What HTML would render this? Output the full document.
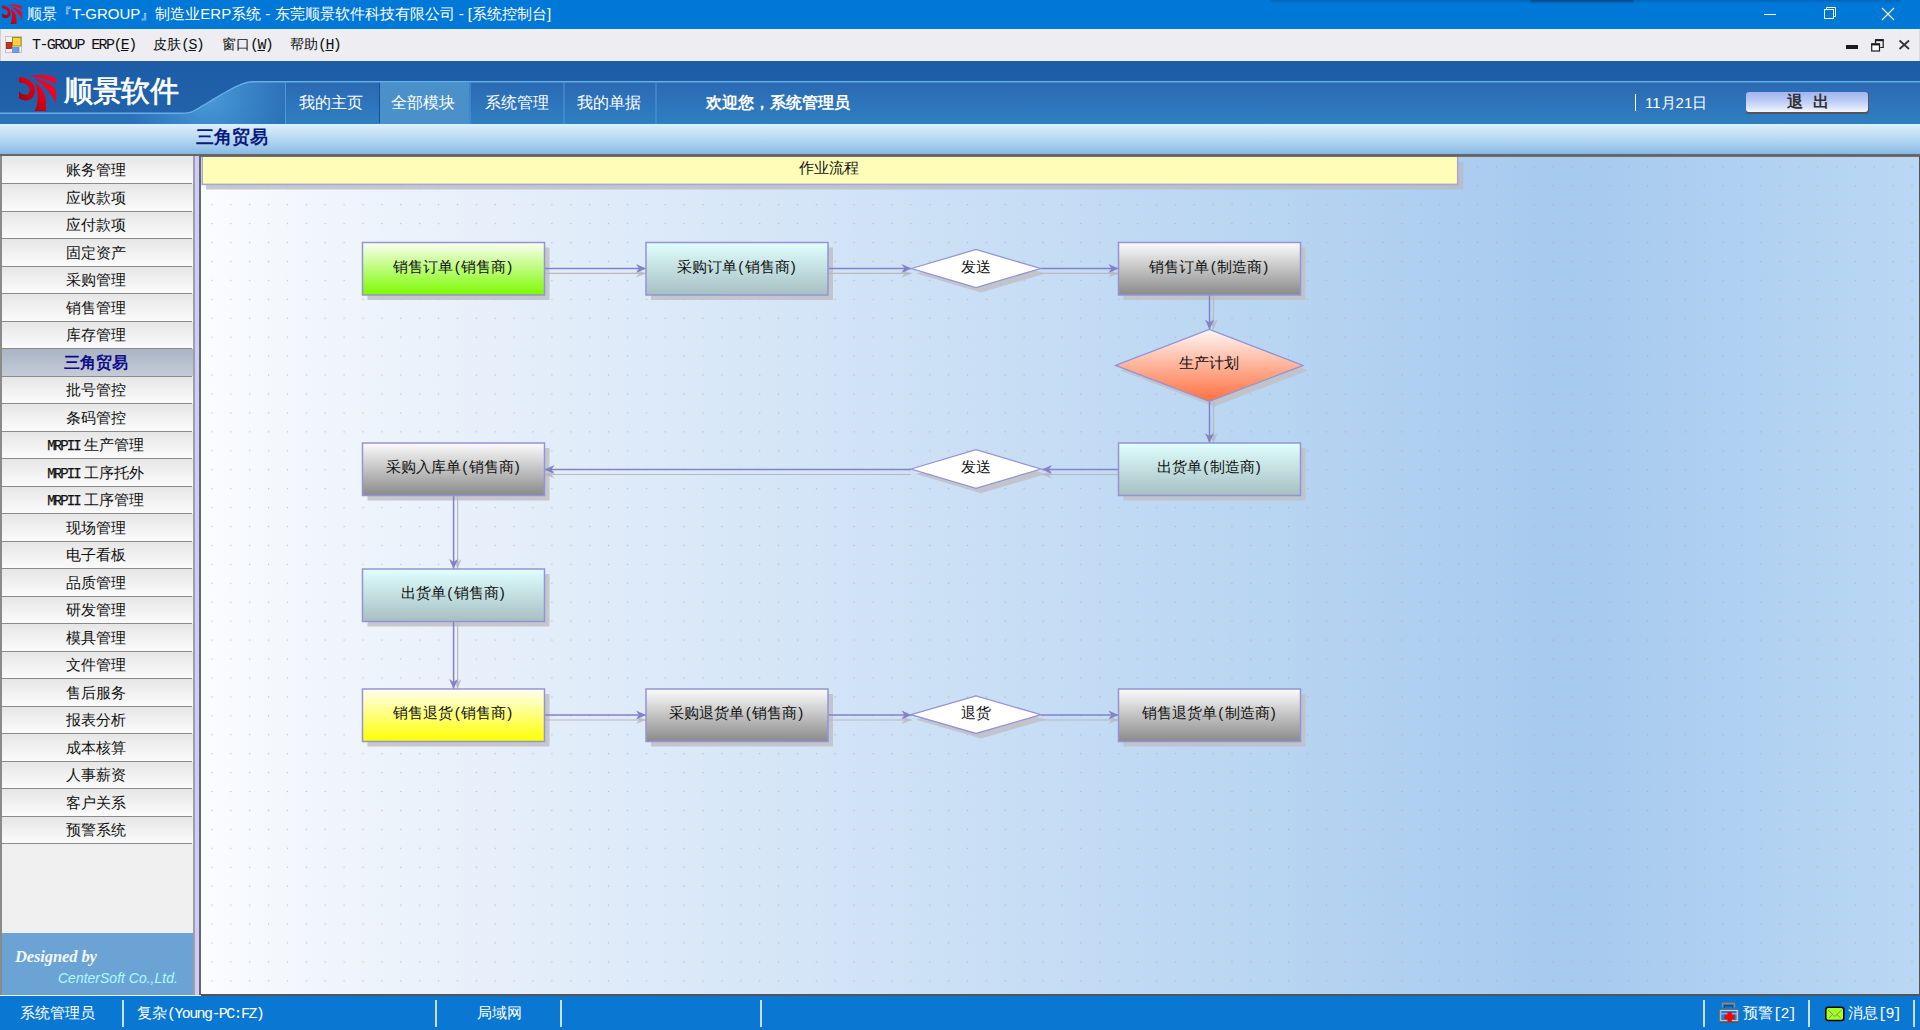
<!DOCTYPE html>
<html><head><meta charset="utf-8">
<style>
*{margin:0;padding:0;box-sizing:border-box}
html,body{width:1920px;height:1030px;overflow:hidden;background:#f0f0f0;font-family:"Liberation Sans",sans-serif}
.a{position:absolute}
#title{left:0;top:0;width:1920px;height:29px;background:#0078d7;color:#fff;font-size:15px}
#menu{left:0;top:29px;width:1920px;height:32px;background:#eeedf2;font-size:14px;color:#111}
#hdr{left:0;top:61px;width:1920px;height:63px;background:#1f5fa8;overflow:hidden}
#sub{left:0;top:124px;width:1920px;height:30px;background:linear-gradient(#dcf0fa 0%,#c5e2f6 30%,#a6cdee 70%,#86b9e3 100%)}
#dline{left:0;top:154px;width:1920px;height:2px;background:#666}
#left{left:0;top:156px;width:195px;height:839px;background:#f0f0f0}
#lborder{left:0;top:156px;width:2px;height:839px;background:#8a8a8a}
.it{position:absolute;left:2px;width:191px;padding-right:4px;background:linear-gradient(#e6e6e6,#fbfbfb);text-align:center;font-size:15px;color:#111}
.itl{position:absolute;left:2px;width:190px;height:1px;background:#8a8a8a}
#vstrip{left:195px;top:156px;width:4px;height:839px;background:#ccccff}
#vline{left:199px;top:156px;width:2px;height:839px;background:#666}
#canvas{left:201px;top:156px;width:1718px;height:838px;background:linear-gradient(90deg,#fbfcfe 0%,#f6f9fd 3%,#ebf2fb 12.2%,#dfebf9 23.8%,#c8def5 47%,#b0d0f0 70%,#a6c9ee 79.6%,#bad8f4 100%);overflow:hidden}
#rline{left:1919px;top:156px;width:1px;height:839px;background:#555}
#bline{left:201px;top:994px;width:1719px;height:2px;background:#555}
#status{left:0;top:996px;width:1920px;height:34px;background:#0a78d2;color:#fff;font-size:15px}
.sep{position:absolute;top:3.5px;width:1.5px;height:27px;background:#c8def2}
.nw{white-space:nowrap}
.mono{font-family:"Liberation Mono",monospace;letter-spacing:-1.6px;font-size:15px}
.tab{top:32px;font-size:16px;color:#fff}
.sel{background:linear-gradient(#aab4c2,#c4ccd8);color:#0c0c8c;font-weight:bold;font-size:15.5px}
.mrp{font-family:"Liberation Mono",monospace;font-size:14px;letter-spacing:-1.9px;-webkit-text-stroke:0.25px #111}
.ft{font-size:15px;color:#111;text-align:center}
.pp{padding:0 1.3px}
.ft{margin-top:-2px}

</style></head><body>
<svg width="0" height="0" style="position:absolute">
<defs>
<linearGradient id="lg" x1="44" y1="14" x2="14" y2="40" gradientUnits="userSpaceOnUse">
<stop offset="0" stop-color="#ff0028"/><stop offset="0.35" stop-color="#f0001e"/><stop offset="1" stop-color="#a00006"/>
</linearGradient>
<symbol id="logo" viewBox="9 7.5 37 37.5">
<g fill="url(#lg)">
<path d="M9,10.5 C18,10.5 25,16 25,24 C25,30 21,34 16.5,34 C13,34 10.5,33 9,31.5 L9,24.5 C11,27.3 13,28.3 15.5,28.3 C18,28.3 19.8,26 19.8,23.5 C19.8,19 15,16 9,16 Z"/>
<path d="M25,16.5 C31,19.5 36,27 36,36 L36,45 L24.5,45 C28.5,37 29,27 25,16.5 Z"/>
<path d="M23.5,12 C33,13 41,17 46,23.5 L46,37.5 C42,27 33,17 23.5,12 Z"/>
<path d="M19.5,10 C28,7.5 38,7.5 46,12 L46,18 C38,12.5 29,10.5 19.5,10 Z"/>
</g>
</symbol>
</defs>
</svg>
<div id="title" class="a">
 <div class="a" style="left:1270px;top:0;width:630px;height:3px;background:linear-gradient(rgba(0,40,90,0.25),rgba(0,40,90,0));border-radius:2px"></div>
 <div class="a" style="left:1530px;top:0;width:104px;height:3.5px;background:linear-gradient(rgba(0,40,80,0.5),rgba(0,40,80,0));border-radius:3px"></div>
 <svg class="a" style="left:2px;top:4px" width="20" height="20"><use href="#logo"/></svg>
 <div class="a nw" style="left:27px;top:5px">顺景『T-GROUP』制造业ERP系统 - 东莞顺景软件科技有限公司 - [系统控制台]</div>
 <svg class="a" style="left:1740px;top:0" width="180" height="29">
  <line x1="24" y1="14.5" x2="36" y2="14.5" stroke="#fff" stroke-width="1"/>
  <rect x="84.5" y="9.5" width="9" height="9" fill="none" stroke="#fff" stroke-width="1"/>
  <path d="M86.5,9.5 V7.5 H95.5 V16.5 H93.5" fill="none" stroke="#fff" stroke-width="1"/>
  <path d="M142,8 L154,20 M154,8 L142,20" stroke="#fff" stroke-width="1.1"/>
 </svg>
</div>
<div id="menu" class="a">
 <div class="a menu-ledge" style="left:0;top:0;width:1.2px;height:32px;background:#d0d0d4"></div>
 <svg class="a" style="left:0;top:0" width="30" height="32">
  <rect x="5.5" y="7.5" width="16" height="16" fill="#f2f2f4" stroke="#c4c4c4"/>
  <rect x="6.5" y="13.5" width="5" height="6" fill="#c83020" stroke="#a01810" stroke-width="0.8"/>
  <rect x="12.5" y="8.5" width="8.5" height="8.5" fill="#ffd040" stroke="#b08810" stroke-width="1"/>
  <rect x="12.5" y="18.5" width="6.5" height="5" fill="#6a9ef0" stroke="#4a7ad0" stroke-width="0.6"/>
 </svg>
 <div class="a nw mono" style="left:32px;top:8px">T-GROUP ERP(<u>E</u>)</div>
 <div class="a nw" style="left:153px;top:7px">皮肤<span class="mono">(<u>S</u>)</span></div>
 <div class="a nw" style="left:222px;top:7px">窗口<span class="mono">(<u>W</u>)</span></div>
 <div class="a nw" style="left:290px;top:7px">帮助<span class="mono">(<u>H</u>)</span></div>
 <svg class="a" style="left:1830px;top:1px" width="90" height="32">
  <rect x="16" y="15" width="12" height="4" fill="#1a1a1a"/>
  <path d="M45.5,13.5 V9.8 H53.2 V17.5 H50.2" fill="none" stroke="#1a1a1a" stroke-width="1.2"/>
  <rect x="45.2" y="9.2" width="8.3" height="2" fill="#1a1a1a"/>
  <rect x="41.7" y="14" width="7.8" height="7" fill="#fff" stroke="#1a1a1a" stroke-width="1.2"/>
  <rect x="41.2" y="13.4" width="8.8" height="2" fill="#1a1a1a"/>
  <path d="M69.5,10.5 L79,19 M79,10.5 L69.5,19" stroke="#333" stroke-width="1.8"/>
  <rect x="89" y="-1" width="1" height="32" fill="#dcdcdc"/>
 </svg>
</div>
<div id="sub" class="a">
 <div class="a nw" style="left:196px;top:0px;font-size:18.3px;font-weight:bold;color:#0a1a80">三角贸易</div>
</div>
<div id="dline" class="a"></div>
<div id="hdr" class="a">
 <svg class="a" style="left:0;top:0" width="1920" height="63">
  <defs>
   <linearGradient id="hg1" x1="0" y1="0" x2="0" y2="1"><stop offset="0" stop-color="#1d5ca6"/><stop offset="1" stop-color="#2264ad"/></linearGradient>
   <linearGradient id="hg2" x1="0" y1="0" x2="0" y2="1"><stop offset="0" stop-color="#2a69b3"/><stop offset="1" stop-color="#2f7fc3"/></linearGradient>
   <radialGradient id="hg3" cx="208" cy="36" r="78" gradientUnits="userSpaceOnUse"><stop offset="0" stop-color="#4b9ad6"/><stop offset="0.45" stop-color="#3a86c9"/><stop offset="1" stop-color="#2c72ba"/></radialGradient>
   <linearGradient id="hg4" x1="0" y1="0" x2="0" y2="1"><stop offset="0" stop-color="#2c74bc"/><stop offset="1" stop-color="#2e7cc2"/></linearGradient>
  </defs>
  <rect x="0" y="0" width="1920" height="63" fill="url(#hg1)"/>
  <rect x="0" y="52" width="300" height="11" fill="url(#hg4)"/>
  <path d="M0,52.3 L178,52.3 C182.0,52.0 187.0,52.6 192,50.8 C197.0,49.0 202.5,44.7 208,41.5 C213.5,38.3 219.4,34.5 225,31.5 C230.6,28.4 237.2,25.0 241.7,23.2 C246.2,21.4 247.3,21.1 252,20.7 L300,20.7 L300,63 L0,63 Z" fill="url(#hg3)"/>
  <rect x="285" y="21.5" width="1635" height="41.5" fill="url(#hg2)"/>
  <rect x="380" y="21.5" width="89" height="41.5" fill="#4a90c9"/>
  <path d="M0,52.3 L178,52.3 C182.0,52.0 187.0,52.6 192,50.8 C197.0,49.0 202.5,44.7 208,41.5 C213.5,38.3 219.4,34.5 225,31.5 C230.6,28.4 237.2,25.0 241.7,23.2 C246.2,21.4 247.3,21.1 252,20.7 L1920,20.7" fill="none" stroke="#66b0e6" stroke-width="1.4"/>
  <g fill="#4c9ad8">
   <rect x="285" y="22" width="1" height="41"/>
   <rect x="469.5" y="22" width="1" height="41"/>
   <rect x="563.5" y="22" width="1" height="41"/>
   <rect x="655.5" y="22" width="1" height="41"/>
  </g>
  <rect x="379" y="22" width="1" height="40" fill="#1a4f8a"/>
 </svg>
 <svg class="a" style="left:19px;top:12.5px" width="37" height="37.5"><use href="#logo"/></svg>
 <div class="a nw" style="left:64px;top:11px;font-size:29px;color:#fff;font-weight:normal;-webkit-text-stroke:0.7px #fff;letter-spacing:-0.3px">顺景软件</div>
 <div class="a nw tab" style="left:299px">我的主页</div>
 <div class="a nw tab" style="left:391px">全部模块</div>
 <div class="a nw tab" style="left:485px">系统管理</div>
 <div class="a nw tab" style="left:577px">我的单据</div>
 <div class="a nw" style="left:706px;top:32px;font-size:16px;font-weight:bold;color:#fff">欢迎您，系统管理员</div>
 <div class="a" style="left:1634.5px;top:33px;width:1.6px;height:17px;background:#fff"></div>
 <div class="a nw" style="left:1645px;top:33px;font-size:15px;color:#fff">11月21日</div>
 <div class="a" style="left:1746px;top:30.5px;width:123px;height:22px;border-radius:3px;background:#555;"></div>
 <div class="a" style="left:1746px;top:30.5px;width:121.5px;height:20.5px;border-radius:3px;background:linear-gradient(#a4b4ee 0%,#b8c8f6 40%,#dde6fc 80%,#f4f6ff 100%)"></div>
 <div class="a nw" style="left:1787px;top:31px;font-size:16px;font-weight:bold;color:#333;letter-spacing:10px">退出</div>
</div>
<div id="left" class="a"></div>
<div id="lborder" class="a"></div>
<div class="it" style="top:156px;height:27px;line-height:27px">账务管理</div>
<div class="itl" style="top:183px"></div>
<div class="it" style="top:184px;height:27px;line-height:27px">应收款项</div>
<div class="itl" style="top:211px"></div>
<div class="it" style="top:212px;height:26px;line-height:26px">应付款项</div>
<div class="itl" style="top:238px"></div>
<div class="it" style="top:239px;height:27px;line-height:27px">固定资产</div>
<div class="itl" style="top:266px"></div>
<div class="it" style="top:267px;height:26px;line-height:26px">采购管理</div>
<div class="itl" style="top:293px"></div>
<div class="it" style="top:294px;height:27px;line-height:27px">销售管理</div>
<div class="itl" style="top:321px"></div>
<div class="it" style="top:322px;height:26px;line-height:26px">库存管理</div>
<div class="itl" style="top:348px"></div>
<div class="it sel" style="top:349px;height:27px;line-height:27px">三角贸易</div>
<div class="itl" style="top:376px"></div>
<div class="it" style="top:377px;height:26px;line-height:26px">批号管控</div>
<div class="itl" style="top:403px"></div>
<div class="it" style="top:404px;height:27px;line-height:27px">条码管控</div>
<div class="itl" style="top:431px"></div>
<div class="it" style="top:432px;height:26px;line-height:26px"><span class="mrp">MRPII</span> 生产管理</div>
<div class="itl" style="top:458px"></div>
<div class="it" style="top:459px;height:27px;line-height:27px"><span class="mrp">MRPII</span> 工序托外</div>
<div class="itl" style="top:486px"></div>
<div class="it" style="top:487px;height:26px;line-height:26px"><span class="mrp">MRPII</span> 工序管理</div>
<div class="itl" style="top:513px"></div>
<div class="it" style="top:514px;height:27px;line-height:27px">现场管理</div>
<div class="itl" style="top:541px"></div>
<div class="it" style="top:542px;height:26px;line-height:26px">电子看板</div>
<div class="itl" style="top:568px"></div>
<div class="it" style="top:569px;height:27px;line-height:27px">品质管理</div>
<div class="itl" style="top:596px"></div>
<div class="it" style="top:597px;height:26px;line-height:26px">研发管理</div>
<div class="itl" style="top:623px"></div>
<div class="it" style="top:624px;height:27px;line-height:27px">模具管理</div>
<div class="itl" style="top:651px"></div>
<div class="it" style="top:652px;height:26px;line-height:26px">文件管理</div>
<div class="itl" style="top:678px"></div>
<div class="it" style="top:679px;height:27px;line-height:27px">售后服务</div>
<div class="itl" style="top:706px"></div>
<div class="it" style="top:707px;height:26px;line-height:26px">报表分析</div>
<div class="itl" style="top:733px"></div>
<div class="it" style="top:734px;height:27px;line-height:27px">成本核算</div>
<div class="itl" style="top:761px"></div>
<div class="it" style="top:762px;height:26px;line-height:26px">人事薪资</div>
<div class="itl" style="top:788px"></div>
<div class="it" style="top:789px;height:27px;line-height:27px">客户关系</div>
<div class="itl" style="top:816px"></div>
<div class="it" style="top:817px;height:26px;line-height:26px">预警系统</div>
<div class="itl" style="top:843px"></div>
<div class="a" style="left:2px;top:933px;width:192px;height:62px;background:#6ba4d4"></div>
<div class="a nw" style="left:15px;top:947px;font-family:'Liberation Serif',serif;font-style:italic;font-weight:bold;font-size:16.5px;color:#f4f8ff;letter-spacing:-0.1px">Designed by</div>
<div class="a nw" style="left:58px;top:970px;font-family:'Liberation Sans',sans-serif;font-style:italic;font-size:14px;color:#a8fcff;letter-spacing:0px">CenterSoft Co.,Ltd.</div>
<div class="a" style="left:193px;top:156px;width:2px;height:839px;background:#a0a0a0"></div>
<div id="vstrip" class="a"></div>
<div id="vline" class="a"></div>
<div id="canvas" class="a"></div>
<svg class="a" style="left:201px;top:156px" width="1718" height="838">
<defs>
<pattern id="dots" x="0" y="0" width="18.89" height="18.93" patternUnits="userSpaceOnUse" patternTransform="translate(1.4,1.34)"><rect x="8.9" y="8.9" width="1.2" height="1.2" fill="#a49c90" opacity="0.6"/></pattern>
<linearGradient id="fg" x1="0" y1="0" x2="0" y2="1"><stop offset="0" stop-color="#fbfff2"/><stop offset="1" stop-color="#7cfa00"/></linearGradient>
<linearGradient id="fc" x1="0" y1="0" x2="0" y2="1"><stop offset="0" stop-color="#e0ffff"/><stop offset="1" stop-color="#a6bfc2"/></linearGradient>
<linearGradient id="fk" x1="0" y1="0" x2="0" y2="1"><stop offset="0" stop-color="#fcfcfc"/><stop offset="1" stop-color="#8a8a8a"/></linearGradient>
<linearGradient id="fy" x1="0" y1="0" x2="0" y2="1"><stop offset="0" stop-color="#fffff2"/><stop offset="1" stop-color="#ffff00"/></linearGradient>
<linearGradient id="fo" x1="0" y1="0" x2="0" y2="1"><stop offset="0" stop-color="#fff6f4"/><stop offset="1" stop-color="#ff7040"/></linearGradient>
</defs>
<rect width="1718" height="838" fill="url(#dots)"/>
<g transform="translate(-201,-156)">
<rect x="206" y="162" width="1257.5" height="27.5" fill="#b8bcc8" opacity="0.8"/>
<rect x="202.2" y="155" width="1255.5" height="29.4" fill="#fffdb8" stroke="#a8a8d0" stroke-width="1.6"/>
<rect x="367.5" y="247.5" width="182" height="52.5" fill="#bfc0c6" opacity="0.85"/>
<rect x="651" y="247.5" width="182" height="52.5" fill="#bfc0c6" opacity="0.85"/>
<rect x="1123.5" y="247.5" width="182" height="52.5" fill="#bfc0c6" opacity="0.85"/>
<rect x="1123.5" y="448" width="182" height="52.5" fill="#bfc0c6" opacity="0.85"/>
<rect x="367.5" y="448" width="182" height="52.5" fill="#bfc0c6" opacity="0.85"/>
<rect x="367.5" y="574" width="182" height="52.5" fill="#bfc0c6" opacity="0.85"/>
<rect x="367.5" y="694" width="182" height="52.5" fill="#bfc0c6" opacity="0.85"/>
<rect x="651" y="694" width="182" height="52.5" fill="#bfc0c6" opacity="0.85"/>
<rect x="1123.5" y="694" width="182" height="52.5" fill="#bfc0c6" opacity="0.85"/>
<path d="M916.5,273.5 L981,254.5 L1045.5,273.5 L981,292.5 Z" fill="#bfc0c6" opacity="0.85"/>
<path d="M916.0,474 L981,454.75 L1046.0,474 L981,493.25 Z" fill="#bfc0c6" opacity="0.85"/>
<path d="M916.0,719.7 L981,700.95 L1046.0,719.7 L981,738.45 Z" fill="#bfc0c6" opacity="0.85"/>
<path d="M1120.55,370.4 L1214.3,334.4 L1308.05,370.4 L1214.3,406.4 Z" fill="#bfc0c6" opacity="0.85"/>
<line x1="544.5" y1="273.4" x2="646" y2="273.4" stroke="#b8b8be" stroke-width="1.2"/>
<line x1="544.5" y1="268.4" x2="646" y2="268.4" stroke="#8282c8" stroke-width="1.5"/>
<path d="M646,273.4 L636,269.4 L639,273.4 L636,277.4 Z" fill="#b8b8be" opacity="0.8"/>
<path d="M646,268.4 L636,263.9 L639,268.4 L636,272.9 Z" fill="#8282c8"/>
<line x1="829" y1="273.4" x2="911.5" y2="273.4" stroke="#b8b8be" stroke-width="1.2"/>
<line x1="829" y1="268.4" x2="911.5" y2="268.4" stroke="#8282c8" stroke-width="1.5"/>
<path d="M911.5,273.4 L901.5,269.4 L904.5,273.4 L901.5,277.4 Z" fill="#b8b8be" opacity="0.8"/>
<path d="M911.5,268.4 L901.5,263.9 L904.5,268.4 L901.5,272.9 Z" fill="#8282c8"/>
<line x1="1040.5" y1="273.4" x2="1118.5" y2="273.4" stroke="#b8b8be" stroke-width="1.2"/>
<line x1="1040.5" y1="268.4" x2="1118.5" y2="268.4" stroke="#8282c8" stroke-width="1.5"/>
<path d="M1118.5,273.4 L1108.5,269.4 L1111.5,273.4 L1108.5,277.4 Z" fill="#b8b8be" opacity="0.8"/>
<path d="M1118.5,268.4 L1108.5,263.9 L1111.5,268.4 L1108.5,272.9 Z" fill="#8282c8"/>
<line x1="1213.5" y1="295" x2="1213.5" y2="329.5" stroke="#b8b8be" stroke-width="1.2"/>
<line x1="1209.5" y1="295" x2="1209.5" y2="329.5" stroke="#8282c8" stroke-width="1.5"/>
<path d="M1213.5,329.5 L1209.5,319.5 L1213.5,322.5 L1217.5,319.5 Z" fill="#b8b8be" opacity="0.8"/>
<path d="M1209.5,329.5 L1205.0,319.5 L1209.5,322.5 L1214.0,319.5 Z" fill="#8282c8"/>
<line x1="1213.5" y1="401.5" x2="1213.5" y2="443" stroke="#b8b8be" stroke-width="1.2"/>
<line x1="1209.5" y1="401.5" x2="1209.5" y2="443" stroke="#8282c8" stroke-width="1.5"/>
<path d="M1213.5,443 L1209.5,433 L1213.5,436 L1217.5,433 Z" fill="#b8b8be" opacity="0.8"/>
<path d="M1209.5,443 L1205.0,433 L1209.5,436 L1214.0,433 Z" fill="#8282c8"/>
<line x1="1118.5" y1="474.5" x2="1042" y2="474.5" stroke="#b8b8be" stroke-width="1.2"/>
<line x1="1118.5" y1="469.5" x2="1042" y2="469.5" stroke="#8282c8" stroke-width="1.5"/>
<path d="M1042,474.5 L1052,470.5 L1049,474.5 L1052,478.5 Z" fill="#b8b8be" opacity="0.8"/>
<path d="M1042,469.5 L1052,465.0 L1049,469.5 L1052,474.0 Z" fill="#8282c8"/>
<line x1="911" y1="474.5" x2="544.5" y2="474.5" stroke="#b8b8be" stroke-width="1.2"/>
<line x1="911" y1="469.5" x2="544.5" y2="469.5" stroke="#8282c8" stroke-width="1.5"/>
<path d="M544.5,474.5 L554.5,470.5 L551.5,474.5 L554.5,478.5 Z" fill="#b8b8be" opacity="0.8"/>
<path d="M544.5,469.5 L554.5,465.0 L551.5,469.5 L554.5,474.0 Z" fill="#8282c8"/>
<line x1="457.6" y1="495.5" x2="457.6" y2="569" stroke="#b8b8be" stroke-width="1.2"/>
<line x1="453.6" y1="495.5" x2="453.6" y2="569" stroke="#8282c8" stroke-width="1.5"/>
<path d="M457.6,569 L453.6,559 L457.6,562 L461.6,559 Z" fill="#b8b8be" opacity="0.8"/>
<path d="M453.6,569 L449.1,559 L453.6,562 L458.1,559 Z" fill="#8282c8"/>
<line x1="457.6" y1="621.5" x2="457.6" y2="689" stroke="#b8b8be" stroke-width="1.2"/>
<line x1="453.6" y1="621.5" x2="453.6" y2="689" stroke="#8282c8" stroke-width="1.5"/>
<path d="M457.6,689 L453.6,679 L457.6,682 L461.6,679 Z" fill="#b8b8be" opacity="0.8"/>
<path d="M453.6,689 L449.1,679 L453.6,682 L458.1,679 Z" fill="#8282c8"/>
<line x1="544.5" y1="720" x2="646" y2="720" stroke="#b8b8be" stroke-width="1.2"/>
<line x1="544.5" y1="715" x2="646" y2="715" stroke="#8282c8" stroke-width="1.5"/>
<path d="M646,720 L636,716 L639,720 L636,724 Z" fill="#b8b8be" opacity="0.8"/>
<path d="M646,715 L636,710.5 L639,715 L636,719.5 Z" fill="#8282c8"/>
<line x1="829" y1="720" x2="911.5" y2="720" stroke="#b8b8be" stroke-width="1.2"/>
<line x1="829" y1="715" x2="911.5" y2="715" stroke="#8282c8" stroke-width="1.5"/>
<path d="M911.5,720 L901.5,716 L904.5,720 L901.5,724 Z" fill="#b8b8be" opacity="0.8"/>
<path d="M911.5,715 L901.5,710.5 L904.5,715 L901.5,719.5 Z" fill="#8282c8"/>
<line x1="1041" y1="720" x2="1118.5" y2="720" stroke="#b8b8be" stroke-width="1.2"/>
<line x1="1041" y1="715" x2="1118.5" y2="715" stroke="#8282c8" stroke-width="1.5"/>
<path d="M1118.5,720 L1108.5,716 L1111.5,720 L1108.5,724 Z" fill="#b8b8be" opacity="0.8"/>
<path d="M1118.5,715 L1108.5,710.5 L1111.5,715 L1108.5,719.5 Z" fill="#8282c8"/>
<rect x="362.5" y="242.5" width="182" height="52.5" fill="url(#fg)" stroke="#9494d4" stroke-width="1.5"/>
<rect x="646" y="242.5" width="182" height="52.5" fill="url(#fc)" stroke="#9494d4" stroke-width="1.5"/>
<rect x="1118.5" y="242.5" width="182" height="52.5" fill="url(#fk)" stroke="#9494d4" stroke-width="1.5"/>
<rect x="1118.5" y="443" width="182" height="52.5" fill="url(#fc)" stroke="#9494d4" stroke-width="1.5"/>
<rect x="362.5" y="443" width="182" height="52.5" fill="url(#fk)" stroke="#9494d4" stroke-width="1.5"/>
<rect x="362.5" y="569" width="182" height="52.5" fill="url(#fc)" stroke="#9494d4" stroke-width="1.5"/>
<rect x="362.5" y="689" width="182" height="52.5" fill="url(#fy)" stroke="#9494d4" stroke-width="1.5"/>
<rect x="646" y="689" width="182" height="52.5" fill="url(#fk)" stroke="#9494d4" stroke-width="1.5"/>
<rect x="1118.5" y="689" width="182" height="52.5" fill="url(#fk)" stroke="#9494d4" stroke-width="1.5"/>
<path d="M911.5,268.5 L976,249.5 L1040.5,268.5 L976,287.5 Z" fill="#ffffff" stroke="#9494d4" stroke-width="1.3"/>
<path d="M911.0,469 L976,449.75 L1041.0,469 L976,488.25 Z" fill="#ffffff" stroke="#9494d4" stroke-width="1.3"/>
<path d="M911.0,714.7 L976,695.95 L1041.0,714.7 L976,733.45 Z" fill="#ffffff" stroke="#9494d4" stroke-width="1.3"/>
<path d="M1115.55,365.4 L1209.3,329.4 L1303.05,365.4 L1209.3,401.4 Z" fill="url(#fo)" stroke="#9494d4" stroke-width="1.3"/>
</g></svg>
<div class="a nw ft" style="left:201.7px;top:157px;width:1255px;height:26px;line-height:26px">作业流程</div>
<div class="a nw ft" style="left:362.5px;top:242.5px;width:182px;height:52.5px;line-height:52.5px">销售订单<span class="pp">(</span>销售商<span class="pp">)</span></div>
<div class="a nw ft" style="left:646px;top:242.5px;width:182px;height:52.5px;line-height:52.5px">采购订单<span class="pp">(</span>销售商<span class="pp">)</span></div>
<div class="a nw ft" style="left:1118.5px;top:242.5px;width:182px;height:52.5px;line-height:52.5px">销售订单<span class="pp">(</span>制造商<span class="pp">)</span></div>
<div class="a nw ft" style="left:1118.5px;top:443px;width:182px;height:52.5px;line-height:52.5px">出货单<span class="pp">(</span>制造商<span class="pp">)</span></div>
<div class="a nw ft" style="left:362.5px;top:443px;width:182px;height:52.5px;line-height:52.5px">采购入库单<span class="pp">(</span>销售商<span class="pp">)</span></div>
<div class="a nw ft" style="left:362.5px;top:569px;width:182px;height:52.5px;line-height:52.5px">出货单<span class="pp">(</span>销售商<span class="pp">)</span></div>
<div class="a nw ft" style="left:362.5px;top:689px;width:182px;height:52.5px;line-height:52.5px">销售退货<span class="pp">(</span>销售商<span class="pp">)</span></div>
<div class="a nw ft" style="left:646px;top:689px;width:182px;height:52.5px;line-height:52.5px">采购退货单<span class="pp">(</span>销售商<span class="pp">)</span></div>
<div class="a nw ft" style="left:1118.5px;top:689px;width:182px;height:52.5px;line-height:52.5px">销售退货单<span class="pp">(</span>制造商<span class="pp">)</span></div>
<div class="a nw ft" style="left:911.5px;top:249.5px;width:129px;height:38px;line-height:38px">发送</div>
<div class="a nw ft" style="left:911.0px;top:449.75px;width:130px;height:38.5px;line-height:38.5px">发送</div>
<div class="a nw ft" style="left:911.0px;top:695.95px;width:130px;height:37.5px;line-height:37.5px">退货</div>
<div class="a nw ft" style="left:1115.55px;top:329.4px;width:187.5px;height:72px;line-height:72px">生产计划</div>
<div class="a" style="left:201px;top:156px;width:1718px;height:1px;background:#6e6e6e"></div>
<div id="rline" class="a"></div>
<div id="bline" class="a"></div>
<div id="status" class="a">
 <div class="a nw" style="left:20px;top:8px">系统管理员</div>
 <div class="sep" style="left:122px"></div>
 <div class="a nw" style="left:137px;top:8px">复杂<span class="mono">(Young-PC:FZ)</span></div>
 <div class="sep" style="left:435px"></div>
 <div class="a nw" style="left:477px;top:8px">局域网</div>
 <div class="sep" style="left:560px"></div>
 <div class="sep" style="left:760px"></div>
 <div class="sep" style="left:1703px"></div>
 <svg class="a" style="left:1715px;top:4px" width="28" height="28">
  <path d="M7.5,7.5 V3.5 H19.5 V7.5" fill="none" stroke="#8a8a8a" stroke-width="1.3"/>
  <path d="M9.5,7.5 V5.8 H17.5 V7.5" fill="none" stroke="#333" stroke-width="1"/>
  <rect x="4.8" y="9.3" width="18.5" height="12.6" rx="1" fill="#e8e8e8" stroke="#707070" stroke-width="1.2"/>
  <rect x="6.2" y="10.8" width="15.5" height="9.5" fill="#0a74d0" opacity="0.9"/>
  <rect x="6.2" y="13.5" width="15.5" height="0.8" fill="#d8d8d8"/>
  <path d="M12.4,12 H16.8 V14.8 H19.6 V19.2 H16.8 V22 H12.4 V19.2 H9.6 V14.8 H12.4 Z" fill="#ff0000"/>
  <rect x="5" y="21.5" width="18.5" height="1.5" fill="#555"/>
 </svg>
 <div class="a nw" style="left:1743px;top:8px">预警<span class="mono">[2]</span></div>
 <div class="sep" style="left:1808px"></div>
 <svg class="a" style="left:1820px;top:4px" width="28" height="28">
  <rect x="5.8" y="7.3" width="18" height="13.3" rx="2.5" fill="#a4ff2a" stroke="#000" stroke-width="1.5"/>
  <path d="M8,10 L14.8,16.5 L21.6,10 M9,18 L12.5,14.5 M20.5,18 L17,14.5" fill="none" stroke="#5a8a2a" stroke-width="0.8"/>
 </svg>
 <div class="a nw" style="left:1848px;top:8px">消息<span class="mono">[9]</span></div>
 <div class="sep" style="left:1913px"></div>
</div>
</body></html>
